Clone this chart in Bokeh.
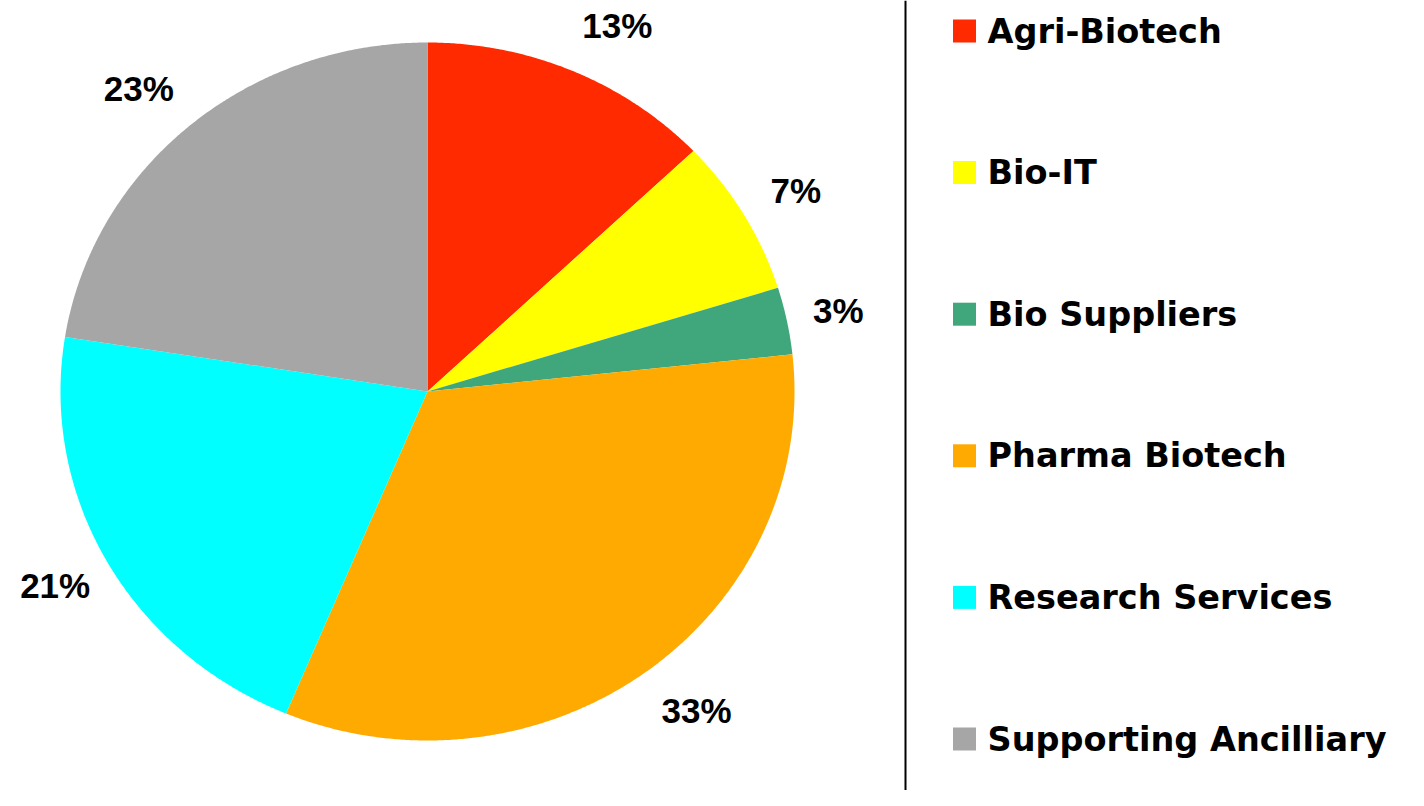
import numpy as np
from bokeh.plotting import figure
from bokeh.models import Range1d, Span, ColumnDataSource
from bokeh.core.properties import value
from bokeh.embed import file_html
from bokeh.resources import INLINE

# ---- data ----
categories = ["Agri-Biotech", "Bio-IT", "Bio Suppliers", "Pharma Biotech",
              "Research Services", "Supporting Ancilliary"]
shares = [12.9, 7.3, 3.1, 33.0, 21.2, 22.5]
pct_labels = ["13%", "7%", "3%", "33%", "21%", "23%"]
colors = ["#FF2A00", "#FFFF00", "#3FA77B", "#FFAA00", "#00FFFF", "#A6A6A6"]

# ---- layout (pixels within figure) ----
W, H = 1408, 790
CX, CY = 427, 391      # pie centre (from left, from top)
RX, RY = 367, 349      # pie radii in px

def dx(px):
    return (px - CX) / RX

def dy(py):
    return (CY - py) / RY

p = figure(width=W, height=H, output_backend="svg", toolbar_location=None,
           x_range=Range1d(-CX / RX, (W - CX) / RX),
           y_range=Range1d(-(H - CY) / RY, CY / RY),
           min_border=0)
p.axis.visible = False
p.xgrid.visible = False
p.ygrid.visible = False
p.outline_line_color = None
p.background_fill_color = "white"
p.border_fill_color = "white"

total = float(sum(shares))
edges = np.concatenate([[0.0], np.cumsum(shares)]) / total * 2 * np.pi

xs, ys, mids = [], [], []
for a0, a1 in zip(edges[:-1], edges[1:]):
    n = max(3, int(np.degrees(a1 - a0) * 3))
    t = np.linspace(a0, a1, n)
    xs.append([0.0] + list(np.sin(t)))
    ys.append([0.0] + list(np.cos(t)))
    mids.append((a0 + a1) / 2)

src = ColumnDataSource(dict(xs=xs, ys=ys, color=colors, cat=categories))
p.patches(xs="xs", ys="ys", fill_color="color", line_color=None, source=src)

mids = np.array(mids)
s, c = np.sin(mids), np.cos(mids)
lx = 1.14 * s + np.sign(s) * 0.08 * c ** 2
ly = 1.14 * c
p.text(x=list(lx), y=list(ly), text=pct_labels,
       text_font=value("Liberation Sans"), text_font_style="bold",
       text_font_size="35px", text_align="center", text_baseline="middle",
       text_color="black")

# separator line
p.add_layout(Span(location=dx(905), dimension="height",
                  line_color="black", line_width=2))

# legend
leg_y = [dy(30.5 + i * 141.6) for i in range(len(categories))]
p.scatter(x=[dx(964)] * len(categories), y=leg_y, marker="square", size=23,
          fill_color=colors, line_color=None)
p.text(x=[dx(987)] * len(categories), y=leg_y, text=categories,
       text_font=value("DejaVu Sans"), text_font_style="bold",
       text_font_size="33.5px", text_align="left", text_baseline="middle",
       text_color="black")

open("out.html", "w").write(file_html(p, INLINE))
